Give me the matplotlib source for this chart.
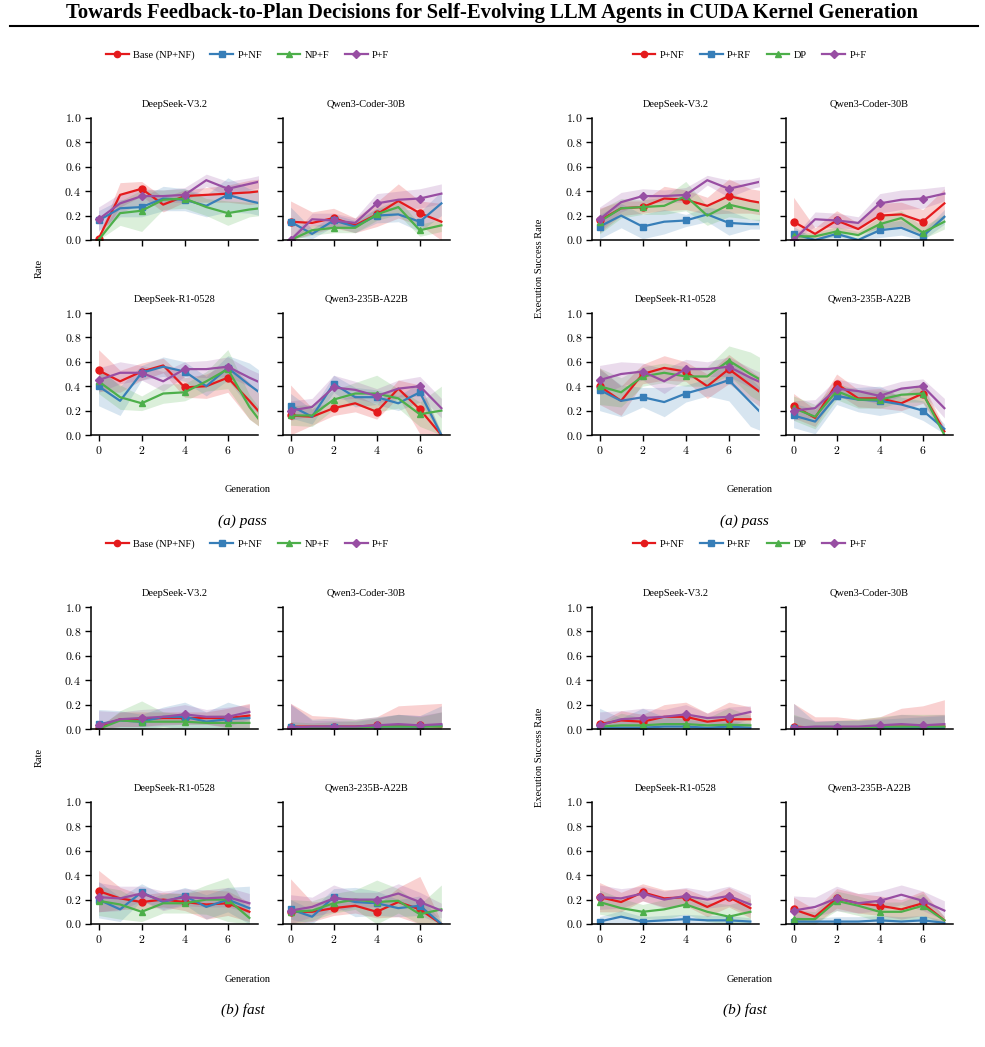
import numpy as np
import matplotlib.pyplot as plt
from matplotlib.lines import Line2D
from matplotlib.ticker import FuncFormatter

plt.rcParams['font.family'] = 'Liberation Serif'
plt.rcParams['mathtext.fontset'] = 'cm'

models = ['DeepSeek-V3.2', 'Qwen3-Coder-30B', 'DeepSeek-R1-0528', 'Qwen3-235B-A22B']
labels_rate = ['Base (NP+NF)', 'P+NF', 'NP+F', 'P+F']
labels_esr = ['P+NF', 'P+RF', 'DP', 'P+F']
colors = ['#e41a1c', '#377eb8', '#4daf4a', '#984ea3']
markers = ['o', 's', '^', 'D']

# ---- (a) pass, Rate ----
pass_rate_v32 = [[0.01, 0.37, 0.42, 0.29, 0.36, 0.37, 0.38, 0.39, 0.41],
                 [0.16, 0.26, 0.27, 0.34, 0.33, 0.28, 0.37, 0.32, 0.28],
                 [0.00, 0.22, 0.24, 0.33, 0.34, 0.27, 0.22, 0.25, 0.27],
                 [0.17, 0.30, 0.36, 0.36, 0.37, 0.49, 0.42, 0.46, 0.50]]
pass_rate_v32_err = [[0.02, 0.10, 0.06, 0.06, 0.05, 0.06, 0.07, 0.10, 0.10],
                     [0.08, 0.07, 0.08, 0.10, 0.09, 0.09, 0.14, 0.10, 0.10],
                     [0.02, 0.10, 0.17, 0.08, 0.08, 0.07, 0.10, 0.06, 0.06],
                     [0.10, 0.08, 0.06, 0.05, 0.06, 0.05, 0.06, 0.05, 0.05]]
pass_rate_coder = [[0.15, 0.14, 0.18, 0.12, 0.21, 0.32, 0.22, 0.15],
                   [0.15, 0.05, 0.16, 0.11, 0.20, 0.21, 0.15, 0.30],
                   [0.00, 0.08, 0.10, 0.10, 0.21, 0.27, 0.08, 0.12],
                   [0.00, 0.17, 0.16, 0.14, 0.30, 0.33, 0.34, 0.38]]
pass_rate_coder_err = [[0.17, 0.09, 0.08, 0.06, 0.10, 0.14, 0.10, 0.15],
                       [0.12, 0.04, 0.05, 0.05, 0.06, 0.06, 0.08, 0.10],
                       [0.02, 0.04, 0.04, 0.04, 0.05, 0.06, 0.05, 0.05],
                       [0.02, 0.05, 0.06, 0.04, 0.08, 0.07, 0.08, 0.08]]
pass_rate_r1 = [[0.53, 0.44, 0.52, 0.57, 0.39, 0.40, 0.47, 0.28, 0.08],
                [0.40, 0.28, 0.51, 0.56, 0.52, 0.40, 0.55, 0.41, 0.28],
                [0.44, 0.31, 0.26, 0.34, 0.35, 0.44, 0.54, 0.23, 0.00],
                [0.45, 0.51, 0.51, 0.44, 0.54, 0.54, 0.56, 0.47, 0.39]]
pass_rate_r1_err = [[0.17, 0.09, 0.07, 0.06, 0.08, 0.10, 0.12, 0.15, 0.15],
                    [0.16, 0.12, 0.06, 0.08, 0.08, 0.08, 0.10, 0.18, 0.18],
                    [0.10, 0.10, 0.06, 0.08, 0.07, 0.08, 0.16, 0.10, 0.10],
                    [0.10, 0.09, 0.06, 0.08, 0.06, 0.07, 0.08, 0.07, 0.07]]
pass_rate_235b = [[0.16, 0.15, 0.22, 0.26, 0.19, 0.38, 0.21, 0.00],
                  [0.24, 0.15, 0.42, 0.31, 0.31, 0.26, 0.35, 0.00],
                  [0.16, 0.16, 0.29, 0.34, 0.34, 0.30, 0.17, 0.20],
                  [0.20, 0.23, 0.39, 0.37, 0.32, 0.38, 0.40, 0.22]]
pass_rate_235b_err = [[0.25, 0.07, 0.06, 0.07, 0.06, 0.07, 0.20, 0.02],
                      [0.10, 0.06, 0.07, 0.08, 0.06, 0.06, 0.08, 0.02],
                      [0.08, 0.09, 0.08, 0.09, 0.15, 0.08, 0.10, 0.20],
                      [0.08, 0.07, 0.10, 0.07, 0.06, 0.07, 0.08, 0.08]]

# ---- (a) pass, Execution Success Rate ----
pass_esr_v32 = [[0.16, 0.26, 0.27, 0.34, 0.33, 0.28, 0.36, 0.32, 0.29],
                [0.11, 0.20, 0.11, 0.15, 0.16, 0.21, 0.14, 0.13, 0.13],
                [0.15, 0.26, 0.27, 0.28, 0.36, 0.20, 0.29, 0.25, 0.22],
                [0.17, 0.31, 0.36, 0.36, 0.37, 0.49, 0.42, 0.46, 0.50]]
pass_esr_v32_err = [[0.10, 0.06, 0.05, 0.10, 0.08, 0.07, 0.14, 0.10, 0.10],
                    [0.10, 0.10, 0.10, 0.10, 0.05, 0.06, 0.10, 0.04, 0.04],
                    [0.10, 0.08, 0.06, 0.07, 0.12, 0.08, 0.10, 0.08, 0.08],
                    [0.10, 0.08, 0.06, 0.05, 0.06, 0.04, 0.07, 0.04, 0.04]]
pass_esr_coder = [[0.15, 0.05, 0.16, 0.09, 0.20, 0.21, 0.15, 0.30],
                  [0.05, 0.00, 0.05, 0.00, 0.08, 0.10, 0.03, 0.19],
                  [0.03, 0.03, 0.07, 0.04, 0.13, 0.18, 0.06, 0.15],
                  [0.00, 0.17, 0.16, 0.14, 0.30, 0.33, 0.34, 0.38]]
pass_esr_coder_err = [[0.20, 0.05, 0.08, 0.05, 0.10, 0.10, 0.10, 0.12],
                      [0.06, 0.01, 0.03, 0.01, 0.06, 0.06, 0.04, 0.06],
                      [0.03, 0.03, 0.04, 0.03, 0.06, 0.06, 0.05, 0.06],
                      [0.02, 0.06, 0.06, 0.05, 0.08, 0.08, 0.08, 0.06]]
pass_esr_r1 = [[0.40, 0.28, 0.50, 0.55, 0.52, 0.40, 0.54, 0.41, 0.28],
               [0.37, 0.28, 0.31, 0.27, 0.34, 0.39, 0.45, 0.27, 0.09],
               [0.40, 0.35, 0.48, 0.51, 0.48, 0.48, 0.61, 0.50, 0.40],
               [0.45, 0.50, 0.52, 0.44, 0.54, 0.54, 0.56, 0.47, 0.39]]
pass_esr_r1_err = [[0.15, 0.12, 0.08, 0.10, 0.08, 0.10, 0.12, 0.12, 0.12],
                   [0.17, 0.13, 0.08, 0.12, 0.07, 0.07, 0.17, 0.20, 0.20],
                   [0.15, 0.12, 0.08, 0.08, 0.08, 0.08, 0.12, 0.18, 0.18],
                   [0.12, 0.10, 0.07, 0.10, 0.08, 0.06, 0.08, 0.08, 0.08]]
pass_esr_235b = [[0.24, 0.14, 0.42, 0.30, 0.30, 0.26, 0.34, 0.03],
                 [0.16, 0.11, 0.32, 0.29, 0.28, 0.25, 0.20, 0.05],
                 [0.22, 0.15, 0.36, 0.29, 0.29, 0.33, 0.34, 0.00],
                 [0.20, 0.22, 0.38, 0.36, 0.32, 0.38, 0.40, 0.22]]
pass_esr_235b_err = [[0.10, 0.07, 0.08, 0.07, 0.08, 0.06, 0.08, 0.03],
                     [0.10, 0.10, 0.07, 0.10, 0.12, 0.06, 0.08, 0.04],
                     [0.10, 0.10, 0.07, 0.07, 0.07, 0.06, 0.07, 0.02],
                     [0.08, 0.07, 0.08, 0.06, 0.07, 0.06, 0.06, 0.08]]

# ---- (b) fast, Rate ----
fast_rate_v32 = [[0.01, 0.08, 0.08, 0.09, 0.09, 0.09, 0.09, 0.11],
                 [0.04, 0.07, 0.06, 0.10, 0.10, 0.06, 0.08, 0.09],
                 [0.00, 0.07, 0.06, 0.06, 0.06, 0.05, 0.05, 0.05],
                 [0.03, 0.08, 0.09, 0.10, 0.12, 0.10, 0.10, 0.14]]
fast_rate_v32_err = [[0.01, 0.06, 0.06, 0.05, 0.05, 0.05, 0.08, 0.10],
                     [0.12, 0.08, 0.06, 0.08, 0.12, 0.08, 0.14, 0.08],
                     [0.01, 0.08, 0.17, 0.08, 0.06, 0.06, 0.07, 0.05],
                     [0.12, 0.06, 0.07, 0.07, 0.08, 0.06, 0.08, 0.06]]
fast_rate_coder = [[0.02, 0.02, 0.02, 0.02, 0.03, 0.03, 0.03, 0.02],
                   [0.02, 0.01, 0.02, 0.01, 0.02, 0.02, 0.02, 0.03],
                   [0.00, 0.01, 0.01, 0.01, 0.02, 0.02, 0.02, 0.02],
                   [0.01, 0.02, 0.02, 0.02, 0.03, 0.04, 0.03, 0.04]]
fast_rate_coder_err = [[0.19, 0.09, 0.08, 0.06, 0.07, 0.16, 0.17, 0.19],
                       [0.18, 0.07, 0.07, 0.07, 0.08, 0.10, 0.09, 0.16],
                       [0.06, 0.04, 0.05, 0.06, 0.07, 0.10, 0.08, 0.12],
                       [0.20, 0.05, 0.05, 0.04, 0.06, 0.08, 0.08, 0.10]]
fast_rate_r1 = [[0.27, 0.21, 0.18, 0.20, 0.18, 0.16, 0.17, 0.10],
                [0.20, 0.12, 0.26, 0.18, 0.23, 0.14, 0.20, 0.13],
                [0.19, 0.16, 0.10, 0.17, 0.17, 0.20, 0.20, 0.05],
                [0.22, 0.21, 0.25, 0.19, 0.22, 0.21, 0.22, 0.17]]
fast_rate_r1_err = [[0.17, 0.09, 0.06, 0.06, 0.07, 0.12, 0.10, 0.08],
                    [0.15, 0.10, 0.07, 0.06, 0.07, 0.10, 0.10, 0.18],
                    [0.12, 0.12, 0.08, 0.08, 0.08, 0.12, 0.18, 0.05],
                    [0.12, 0.10, 0.06, 0.08, 0.07, 0.07, 0.08, 0.08]]
fast_rate_235b = [[0.10, 0.10, 0.13, 0.15, 0.10, 0.18, 0.12, 0.00],
                  [0.12, 0.06, 0.22, 0.18, 0.17, 0.13, 0.15, 0.00],
                  [0.10, 0.11, 0.17, 0.20, 0.18, 0.19, 0.08, 0.12],
                  [0.11, 0.14, 0.21, 0.20, 0.20, 0.25, 0.18, 0.11]]
fast_rate_235b_err = [[0.27, 0.08, 0.06, 0.06, 0.05, 0.12, 0.27, 0.02],
                      [0.08, 0.06, 0.07, 0.12, 0.10, 0.07, 0.08, 0.02],
                      [0.10, 0.08, 0.08, 0.08, 0.18, 0.10, 0.08, 0.20],
                      [0.13, 0.08, 0.11, 0.06, 0.06, 0.08, 0.08, 0.06]]

# ---- (b) fast, Execution Success Rate ----
fast_esr_v32 = [[0.04, 0.07, 0.06, 0.10, 0.10, 0.06, 0.08, 0.08],
                [0.01, 0.01, 0.01, 0.02, 0.02, 0.01, 0.02, 0.01],
                [0.02, 0.03, 0.03, 0.04, 0.04, 0.03, 0.035, 0.03],
                [0.03, 0.08, 0.09, 0.10, 0.12, 0.09, 0.10, 0.14]]
fast_esr_v32_err = [[0.02, 0.08, 0.06, 0.10, 0.12, 0.07, 0.14, 0.10],
                    [0.16, 0.08, 0.16, 0.08, 0.06, 0.05, 0.05, 0.04],
                    [0.02, 0.10, 0.06, 0.05, 0.08, 0.06, 0.14, 0.08],
                    [0.11, 0.07, 0.08, 0.06, 0.08, 0.04, 0.08, 0.05]]
fast_esr_coder = [[0.02, 0.01, 0.01, 0.01, 0.02, 0.02, 0.02, 0.02],
                  [0.01, 0.01, 0.01, 0.01, 0.01, 0.01, 0.01, 0.01],
                  [0.00, 0.01, 0.01, 0.01, 0.02, 0.02, 0.02, 0.02],
                  [0.01, 0.02, 0.02, 0.02, 0.03, 0.04, 0.03, 0.04]]
fast_esr_coder_err = [[0.19, 0.09, 0.09, 0.07, 0.08, 0.15, 0.17, 0.22],
                      [0.20, 0.05, 0.06, 0.06, 0.07, 0.08, 0.09, 0.10],
                      [0.12, 0.05, 0.06, 0.07, 0.08, 0.10, 0.10, 0.10],
                      [0.10, 0.05, 0.05, 0.05, 0.06, 0.08, 0.08, 0.08]]
fast_esr_r1 = [[0.22, 0.18, 0.26, 0.21, 0.22, 0.14, 0.22, 0.13],
               [0.02, 0.06, 0.02, 0.03, 0.04, 0.03, 0.03, 0.02],
               [0.18, 0.13, 0.10, 0.12, 0.16, 0.10, 0.06, 0.10],
               [0.22, 0.21, 0.25, 0.20, 0.23, 0.20, 0.23, 0.16]]
fast_esr_r1_err = [[0.12, 0.08, 0.07, 0.07, 0.07, 0.08, 0.08, 0.08],
                   [0.04, 0.05, 0.04, 0.04, 0.04, 0.04, 0.04, 0.03],
                   [0.10, 0.08, 0.06, 0.08, 0.08, 0.08, 0.10, 0.10],
                   [0.10, 0.08, 0.06, 0.07, 0.07, 0.07, 0.08, 0.08]]
fast_esr_235b = [[0.12, 0.06, 0.21, 0.17, 0.15, 0.12, 0.17, 0.03],
                 [0.02, 0.02, 0.02, 0.02, 0.03, 0.02, 0.03, 0.01],
                 [0.04, 0.04, 0.19, 0.15, 0.10, 0.10, 0.15, 0.03],
                 [0.11, 0.14, 0.21, 0.17, 0.19, 0.24, 0.19, 0.11]]
fast_esr_235b_err = [[0.10, 0.06, 0.08, 0.08, 0.08, 0.08, 0.10, 0.03],
                     [0.04, 0.03, 0.04, 0.04, 0.04, 0.04, 0.04, 0.02],
                     [0.08, 0.06, 0.08, 0.08, 0.08, 0.08, 0.10, 0.03],
                     [0.12, 0.08, 0.10, 0.08, 0.08, 0.08, 0.08, 0.08]]

W, H = 985, 1047
fig = plt.figure(figsize=(W / 100, H / 100), dpi=100)


def add_ax(x0, x1, y0, y1):
    return fig.add_axes([x0 / W, 1 - y1 / H, (x1 - x0) / W, (y1 - y0) / H])


def draw_panel(ax, means, errs, title, show_x, show_y):
    # shaded bands first, lines on top
    for m, e, c in zip(means, errs, colors):
        m, e = np.array(m), np.array(e)
        gens = np.arange(len(m))
        ax.fill_between(gens, np.clip(m - e, 0, 1), np.clip(m + e, 0, 1),
                        color=c, alpha=0.2, lw=0)
    for m, c, mk in zip(means, colors, markers):
        gens = np.arange(len(m))
        ax.plot(gens, m, color=c, lw=1.6, marker=mk, ms=5 if mk != 'D' else 4.5,
                markevery=2)
    ax.set_xlim(-0.35, 7.4)
    ax.set_ylim(0, 1)
    ax.set_xticks([0, 2, 4, 6])
    ax.set_yticks(np.arange(0, 1.01, 0.2))
    ax.xaxis.set_major_formatter(FuncFormatter(lambda v, p: r'$%d$' % v))
    ax.yaxis.set_major_formatter(FuncFormatter(lambda v, p: r'$%.1f$' % v))
    ax.spines['top'].set_visible(False)
    ax.spines['right'].set_visible(False)
    for s in ['left', 'bottom']:
        ax.spines[s].set_linewidth(1.1)
    ax.tick_params(direction='out', length=4, width=1, labelsize=8.5, pad=3)
    if not show_x:
        ax.tick_params(axis='x', labelbottom=False)
    if not show_y:
        ax.tick_params(axis='y', labelleft=False)
    ax.set_title(title, fontsize=7.5, pad=8)


blocks = [
    ([pass_rate_v32, pass_rate_coder, pass_rate_r1, pass_rate_235b],
     [pass_rate_v32_err, pass_rate_coder_err, pass_rate_r1_err, pass_rate_235b_err],
     labels_rate, 'Rate', '(a) pass', (91, 283), (118, 313)),
    ([pass_esr_v32, pass_esr_coder, pass_esr_r1, pass_esr_235b],
     [pass_esr_v32_err, pass_esr_coder_err, pass_esr_r1_err, pass_esr_235b_err],
     labels_esr, 'Execution Success Rate', '(a) pass', (592, 786), (118, 313)),
    ([fast_rate_v32, fast_rate_coder, fast_rate_r1, fast_rate_235b],
     [fast_rate_v32_err, fast_rate_coder_err, fast_rate_r1_err, fast_rate_235b_err],
     labels_rate, 'Rate', '(b) fast', (91, 283), (607, 802)),
    ([fast_esr_v32, fast_esr_coder, fast_esr_r1, fast_esr_235b],
     [fast_esr_v32_err, fast_esr_coder_err, fast_esr_r1_err, fast_esr_235b_err],
     labels_esr, 'Execution Success Rate', '(b) fast', (592, 786), (607, 802)),
]

aw, ah = 167, 122
for means, errs, labels, ylab, caption, xs, ys in blocks:
    for i in range(4):
        r, c = divmod(i, 2)
        ax = add_ax(xs[c], xs[c] + aw, ys[r], ys[r] + ah)
        draw_panel(ax, means[i], errs[i], models[i], r == 1, c == 0)
    cx = (xs[0] + xs[1] + aw) / 2 - 23
    handles = [Line2D([], [], color=col, marker=mk, lw=1.6, ms=4.5)
               for col, mk in zip(colors, markers)]
    fig.legend(handles, labels, loc='center', ncol=4, frameon=False,
               bbox_to_anchor=(cx / W, 1 - (ys[0] - 63) / H), fontsize=7.5,
               handlelength=2.2, columnspacing=1.5, handletextpad=0.4)
    fig.text((xs[0] - 52) / W, 1 - ((ys[0] + ys[1] + ah) / 2 - 8) / H, ylab,
             rotation=90, ha='center', va='center', fontsize=7.5)
    fig.text(cx / W, 1 - (ys[1] + ah + 55) / H, 'Generation',
             ha='center', va='center', fontsize=7.5)
    fig.text((cx - 5) / W, 1 - (ys[1] + ah + 86) / H, caption,
             ha='center', va='center', fontsize=11, style='italic')

fig.text(492 / W, 1 - 13 / H,
         'Towards Feedback-to-Plan Decisions for Self-Evolving LLM Agents in CUDA Kernel Generation',
         ha='center', va='center', fontsize=14.9, fontweight='bold')
fig.add_artist(Line2D([10 / W, 978 / W], [1 - 26 / H, 1 - 26 / H], color='black', lw=1.5))

fig.savefig('out.png', dpi=100)
